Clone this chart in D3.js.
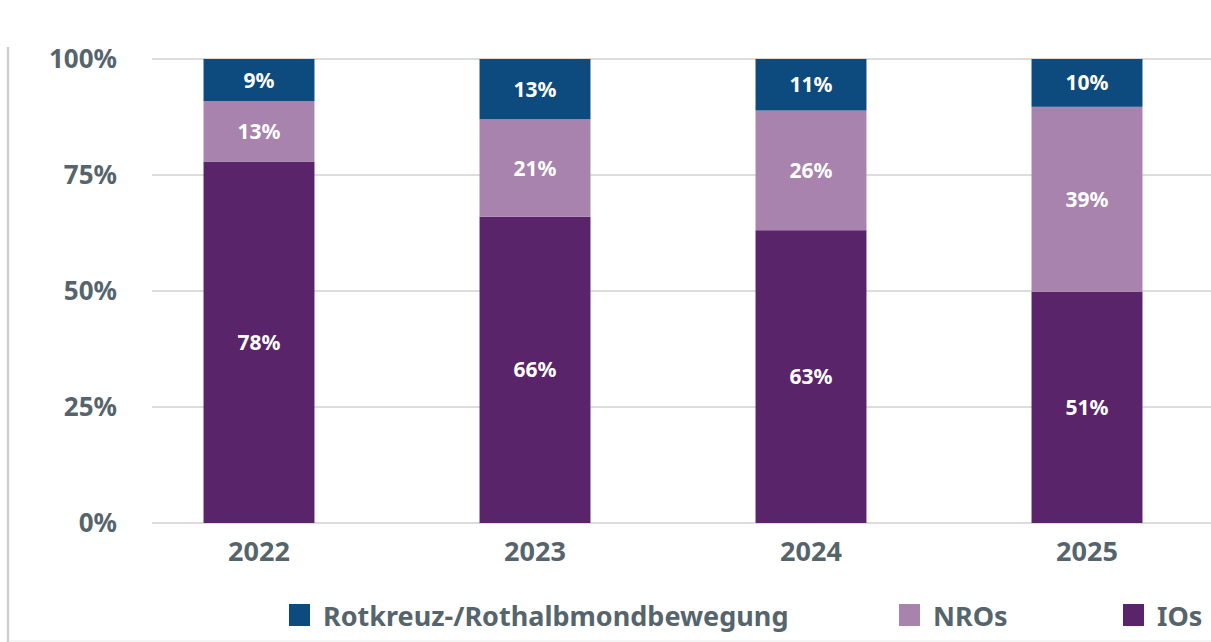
<!DOCTYPE html>
<html>
<head>
<meta charset="utf-8">
<script src="https://cdn.jsdelivr.net/npm/d3@7"></script>
<style>
  body { margin: 0; background: #fff; }
  svg { display: block; font-family: "Noto Sans", "Open Sans", sans-serif; font-weight: bold; }
</style>
</head>
<body>
<svg width="1211" height="642"></svg>
<script>
// Data (shares in %, as drawn) and the printed labels
var years = ['2022', '2023', '2024', '2025'];
var ios  = [77.9, 66.0, 63.1, 49.8];
var nros = [13.0, 21.0, 25.8, 39.9];
var rk   = [9.1, 13.0, 11.1, 10.3];
var ioLabels  = ['78%', '66%', '63%', '51%'];
var nroLabels = ['13%', '21%', '26%', '39%'];
var rkLabels  = ['9%', '13%', '11%', '10%'];
var yTicks = [0, 25, 50, 75, 100];

var seriesNames = ['Rotkreuz-/Rothalbmondbewegung', 'NROs', 'IOs'];
var colors = {ios: '#5a246a', nros: '#a883ad', rk: '#0d4a7e'};
var textColor = '#56646c';

var svg = d3.select('svg');

// Frame lines at the left and bottom edges
svg.append('line')
    .attr('x1', 8).attr('x2', 8)
    .attr('y1', 47).attr('y2', 642)
    .attr('stroke', '#cfcfcf').attr('stroke-width', 2.5);
svg.append('line')
    .attr('x1', 10).attr('x2', 1211)
    .attr('y1', 641).attr('y2', 641)
    .attr('stroke', '#f0f0f0').attr('stroke-width', 1.5);

// Scales
var xScale = d3.scaleBand()
    .domain(years)
    .range([121, 1225])
    .paddingInner(0.598)
    .paddingOuter(0.299);

var yScale = d3.scaleLinear()
    .domain([0, 100])
    .range([523, 59]);

// Gridlines
svg.append('g').selectAll('line')
    .data(yTicks)
    .enter().append('line')
    .attr('x1', 152).attr('x2', 1211)
    .attr('y1', function(d) { return yScale(d); })
    .attr('y2', function(d) { return yScale(d); })
    .attr('stroke', '#d0d0d0').attr('stroke-width', 1.5);

// Y axis labels
var yAxisG = svg.append('g')
    .attr('transform', 'translate(117,0)')
    .call(d3.axisLeft(yScale).tickValues(yTicks).tickSize(0).tickPadding(0)
        .tickFormat(function(d) { return d + '%'; }));
yAxisG.select('.domain').remove();
yAxisG.selectAll('text')
    .attr('fill', textColor)
    .style('font-size', '26px')
    .style('font-family', '"Noto Sans", sans-serif')
    .style('font-weight', 'bold');

// X axis labels
var xAxisG = svg.append('g')
    .attr('transform', 'translate(0,523)')
    .call(d3.axisBottom(xScale).tickSize(0).tickPadding(14));
xAxisG.select('.domain').remove();
xAxisG.selectAll('text')
    .attr('fill', textColor)
    .attr('dy', '0.9em')
    .style('font-size', '27px')
    .style('font-family', '"Noto Sans", sans-serif')
    .style('font-weight', 'bold');

// Build stacked rows
var rows = years.map(function(y, i) {
    return {year: y, ios: ios[i], nros: nros[i], rk: rk[i],
            ioLabel: ioLabels[i], nroLabel: nroLabels[i], rkLabel: rkLabels[i]};
});
var stack = d3.stack().keys(['ios', 'nros', 'rk']);
var stacked = stack(rows);
var labelKey = {ios: 'ioLabel', nros: 'nroLabel', rk: 'rkLabel'};

var layers = svg.append('g').selectAll('g')
    .data(stacked)
    .enter().append('g')
    .attr('fill', function(d) { return colors[d.key]; });

layers.selectAll('rect')
    .data(function(d) { return d; })
    .enter().append('rect')
    .attr('x', function(d) { return xScale(d.data.year); })
    .attr('width', xScale.bandwidth())
    .attr('y', function(d) { return yScale(d[1]); })
    .attr('height', function(d) { return yScale(d[0]) - yScale(d[1]); });

// Segment labels
var labelG = svg.append('g');
stacked.forEach(function(layer) {
    labelG.selectAll('text.l-' + layer.key)
        .data(layer)
        .enter().append('text')
        .attr('class', 'l-' + layer.key)
        .attr('x', function(d) { return xScale(d.data.year) + xScale.bandwidth() / 2; })
        .attr('y', function(d) { return (yScale(d[0]) + yScale(d[1])) / 2; })
        .attr('dy', '0.36em')
        .attr('text-anchor', 'middle')
        .attr('fill', '#fff')
        .style('font-size', '21px')
        .text(function(d) { return d.data[labelKey[layer.key]]; });
});

// Legend
var legendItems = [
    {name: seriesNames[0], color: colors.rk, x: 289},
    {name: seriesNames[1], color: colors.nros, x: 899},
    {name: seriesNames[2], color: colors.ios, x: 1123}
];
var legend = svg.append('g').selectAll('g')
    .data(legendItems)
    .enter().append('g')
    .attr('transform', function(d) { return 'translate(' + d.x + ',604)'; });
legend.append('rect')
    .attr('width', 21).attr('height', 22)
    .attr('fill', function(d) { return d.color; });
legend.append('text')
    .attr('x', 34).attr('y', 22)
    .attr('fill', textColor)
    .style('font-size', '27px')
    .text(function(d) { return d.name; });
</script>
</body>
</html>
